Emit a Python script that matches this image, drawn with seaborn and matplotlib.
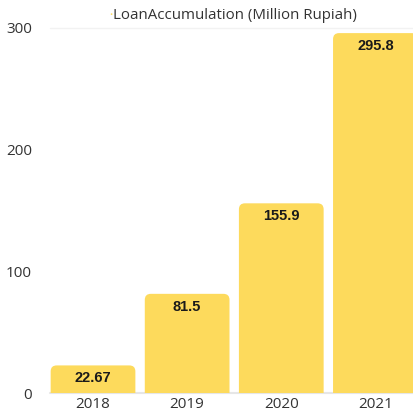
import matplotlib
matplotlib.use("Agg")
import matplotlib.pyplot as plt
import seaborn as sns
import pandas as pd
from matplotlib.patches import FancyBboxPatch

years = ["2018", "2019", "2020", "2021"]
loans = [22.67, 81.5, 155.9, 295.8]
labels = ["22.67", "81.5", "155.9", "295.8"]
title = "LoanAccumulation (Million Rupiah)"
yticks = [0, 100, 200, 300]

sns.set_theme(style="white")
plt.rcParams["font.family"] = ["Open Sans", "DejaVu Sans"]

bar_color = "#FDDA5C"
fig = plt.figure(figsize=(4.14, 4.19), dpi=100)
ax = fig.add_axes([50 / 414, 26 / 419, 1 - 50 / 414, (393 - 28) / 419])

df = pd.DataFrame({"year": years, "loan": loans})
sns.barplot(data=df, x="year", y="loan", color=bar_color, width=0.9,
            saturation=1, ax=ax)

ax.set_xlim(-0.457, 3.41)
ax.set_ylim(0, 300)

# replace bars by rounded-top bars
px_x = 94.0
px_y = 365 / 300
r = 6
for p in list(ax.patches):
    x0, w, h = p.get_x(), p.get_width(), p.get_height()
    ext = 10
    fb = FancyBboxPatch((x0, -ext), w, h + ext,
                        boxstyle=f"round,pad=0,rounding_size={r / px_x}",
                        mutation_aspect=(r / px_y) / (r / px_x),
                        facecolor=bar_color, edgecolor="none", zorder=2)
    p.remove()
    ax.add_patch(fb)

for i, (v, lab) in enumerate(zip(loans, labels)):
    ax.text(i, v - 13 / px_y, lab, ha="center", va="center",
            fontsize=10.5, fontweight="bold", color="#1a1a1a",
            family=["Liberation Sans", "DejaVu Sans"], zorder=3)

ax.set_yticks(yticks)
ax.set_yticklabels([str(t) for t in yticks])
ax.tick_params(axis="y", length=0, pad=13, labelsize=11, labelcolor="#333333")
ax.tick_params(axis="x", length=0, pad=3, labelsize=11, labelcolor="#333333")
ax.set_xlabel("")
ax.set_ylabel("")
for s in ax.spines.values():
    s.set_visible(False)
ax.axhline(300, color="#f2f2f2", lw=1, zorder=0, clip_on=False)
ax.axhline(0, color="#e6e6e6", lw=1.5, zorder=1, clip_on=False)

fig.text(0.271, 0.962, "\u2022", color=bar_color, fontsize=6, ha="right", va="center")
fig.text(0.273, 0.962, title, fontsize=10.8, color="#333333", ha="left", va="center")

fig.savefig("out.png", dpi=100)
